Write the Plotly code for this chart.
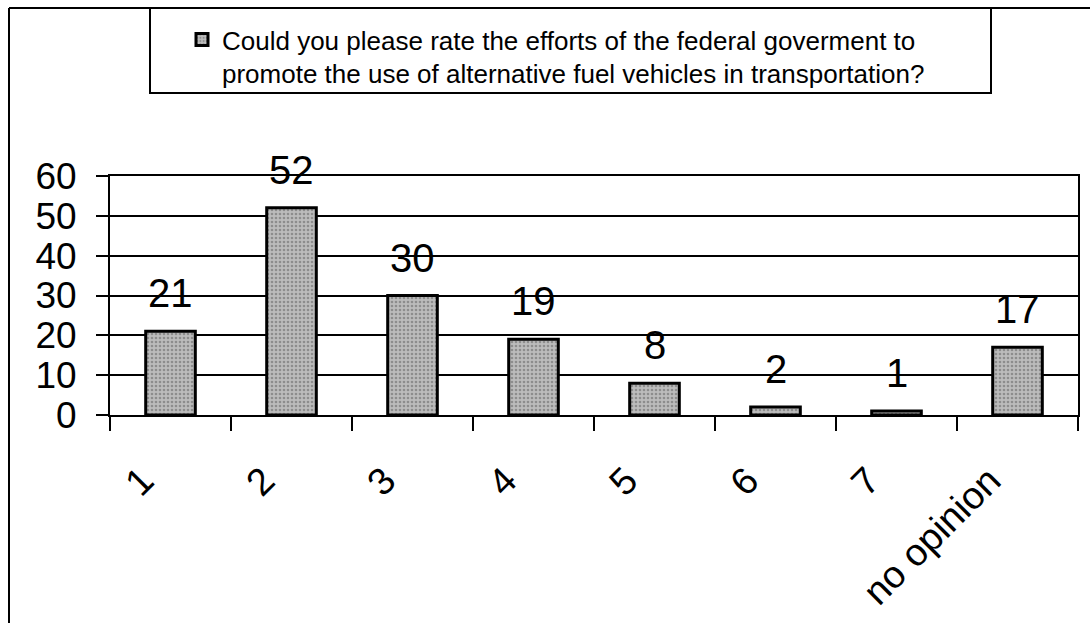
import plotly.graph_objects as go

# Survey responses: rating of federal efforts for alternative fuel vehicles
categories = ["1", "2", "3", "4", "5", "6", "7", "no opinion"]
counts = [21, 52, 30, 19, 8, 2, 1, 17]
y_ticks = [0, 10, 20, 30, 40, 50, 60]
series_name = ("Could you please rate the efforts of the federal goverment to<br>"
               "promote the use of alternative fuel vehicles in transportation?")

FONT = "Liberation Sans, Arial, sans-serif"

# plot area geometry in pixels (used to place the frame and legend box)
W, H = 1090, 623
L, R, T, B = 110, 12, 176, 208
pw, ph = W - L - R, H - T - B


def px_x(x):
    return (x - L) / pw


def px_y(y):
    return (H - B - y) / ph


fig = go.Figure()
fig.add_trace(go.Bar(
    x=categories,
    y=counts,
    name=series_name,
    width=0.41,
    marker=dict(
        color="#b4b4b4",
        line=dict(color="black", width=3),
        pattern=dict(shape=".", fgcolor="#5e5e5e", bgcolor="#bcbcbc",
                     size=4, solidity=0.35),
    ),
    showlegend=True,
))

# value labels above each bar (category index positions)
for i, v in enumerate(counts):
    fig.add_annotation(
        x=i, y=v, text=str(v), showarrow=False,
        yanchor="middle", yshift=38,
        font=dict(family=FONT, size=40, color="black"),
    )

shapes = [
    # outer frame: left and top edges
    dict(type="line", xref="paper", yref="paper",
         x0=px_x(9), x1=px_x(9), y0=px_y(8), y1=px_y(H + 5),
         line=dict(color="black", width=2)),
    dict(type="line", xref="paper", yref="paper",
         x0=px_x(9), x1=px_x(W + 5), y0=px_y(8), y1=px_y(8),
         line=dict(color="black", width=2)),
    # legend box
    dict(type="rect", xref="paper", yref="paper",
         x0=px_x(150), x1=px_x(991), y0=px_y(8), y1=px_y(93),
         line=dict(color="black", width=2), fillcolor="white", layer="below"),
]

fig.update_layout(
    width=W, height=H,
    margin=dict(l=L, r=R, t=T, b=B),
    paper_bgcolor="white",
    plot_bgcolor="white",
    font=dict(family=FONT, color="black"),
    bargap=0.59,
    shapes=shapes,
    legend=dict(
        x=px_x(182), y=px_y(16), xanchor="left", yanchor="top",
        bgcolor="rgba(0,0,0,0)", borderwidth=0,
        font=dict(family=FONT, size=26, color="black"),
        valign="top",
    ),
    xaxis=dict(
        type="category",
        automargin=False,
        tickangle=-45,
        tickfont=dict(family=FONT, size=38, color="black"),
        ticks="outside", ticklen=14, tickwidth=1.5, tickcolor="black",
        tickson="boundaries",
        ticklabelstandoff=26, ticklabelshift=-28,
        showline=True, linecolor="black", linewidth=2, mirror=True,
        showgrid=False, zeroline=False,
    ),
    yaxis=dict(
        automargin=False,
        range=[0, 60],
        tickvals=y_ticks,
        tickfont=dict(family=FONT, size=37, color="black"),
        ticks="outside", ticklen=12, tickwidth=1.5, tickcolor="black",
        ticklabelstandoff=12,
        showline=True, linecolor="black", linewidth=2, mirror=True,
        showgrid=True, gridcolor="black", gridwidth=1.5,
        zeroline=False,
    ),
)

fig.write_html("out.html")
